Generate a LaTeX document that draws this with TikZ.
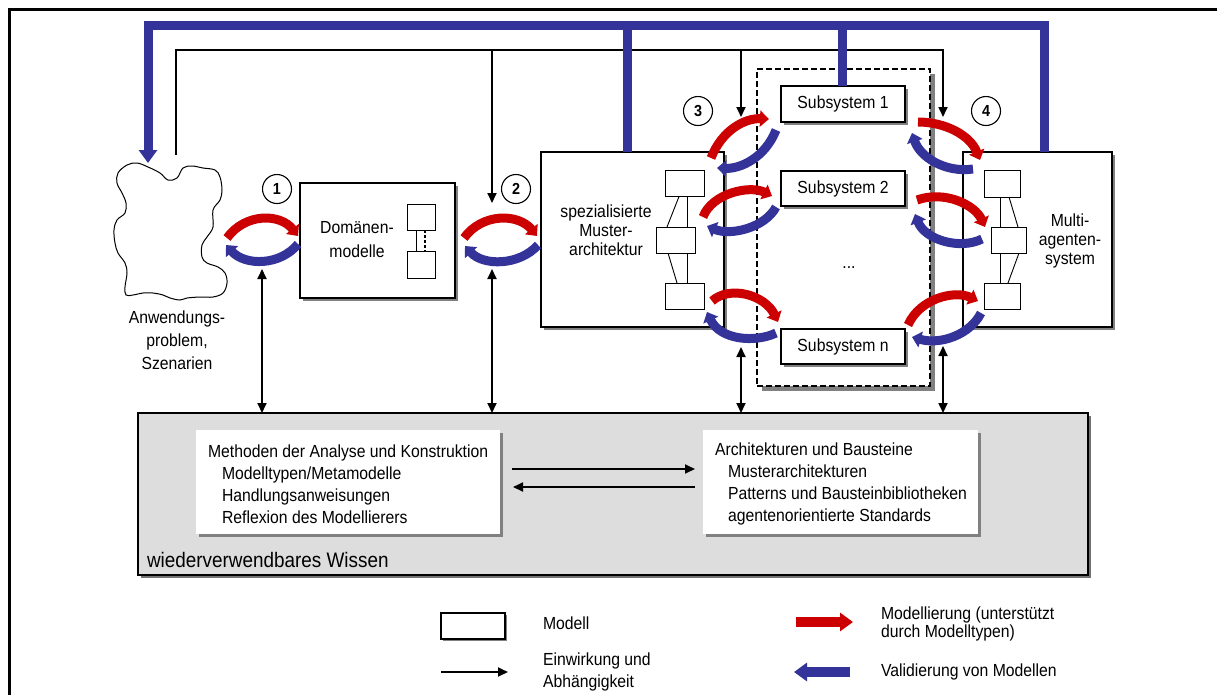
\documentclass[tikz,border=0pt]{standalone}
\usepackage{fontspec}
\setmainfont[FakeStretch=0.9]{Liberation Sans}
\usetikzlibrary{arrows.meta,shadows,calc}
\definecolor{modred}{HTML}{CC0000}
\definecolor{modblue}{HTML}{333399}
\definecolor{knowgray}{HTML}{DDDDDD}
\definecolor{shadowgray}{HTML}{808080}

\begin{document}
\begin{tikzpicture}[x=1pt,y=-1pt,
  every node/.style={inner sep=0pt, outer sep=0pt},
  txt/.style={font=\fontsize{17.5}{22}\selectfont},
  boxshadow/.style={general shadow={fill=shadowgray, shadow xshift=3pt, shadow yshift=-3pt}},
  modelbox/.style={draw, line width=1.2pt, fill=white, boxshadow},
  minibox/.style={draw, line width=0.9pt, fill=white},
  dep/.style={line width=1.8pt, line join=miter, -{Triangle[width=9pt,length=10pt]}},
  depboth/.style={line width=1.8pt, {Triangle[width=9pt,length=10pt]}-{Triangle[width=9pt,length=10pt]}},
  feed/.style={draw=modblue, line width=9pt, line join=miter},
  modarc/.style={draw=modred, line width=9pt, -{Triangle[width=16pt,length=9pt]}},
  valarc/.style={draw=modblue, line width=9pt, -{Triangle[width=16pt,length=9pt]}},
  stepnum/.style={circle, draw, line width=1.1pt, minimum size=29pt, fill=white,
    font=\bfseries\fontsize{16}{16}\selectfont},
]
\useasboundingbox (0,0) rectangle (1217,694);

% outer frame (continues past the page edge)
\draw[line width=2.5pt] (9.5,700) -- (9.5,9.5) -- (1225,9.5);

% reusable knowledge
\node[fill=knowgray, draw, line width=1.2pt,
      general shadow={fill=black!55, shadow xshift=3pt, shadow yshift=-3pt},
      minimum width=950, minimum height=162] (know) at (613,494) {};
\node[fill=white, boxshadow, minimum width=304, minimum height=104] (methods) at (348,482) {};
\node[fill=white, boxshadow, minimum width=275, minimum height=104] (archs) at (840.5,482) {};
\node[txt, anchor=west, align=left] (methtxt) at (208,484)
  {Methoden der Analyse und Konstruktion\\
   \hspace*{14pt}Modelltypen/Metamodelle\\
   \hspace*{14pt}Handlungsanweisungen\\
   \hspace*{14pt}Reflexion des Modellierers};
\node[txt, anchor=west, align=left] (archtxt) at (715,484)
  {Architekturen und Bausteine\\
   \hspace*{13pt}Musterarchitekturen\\
   \hspace*{13pt}Patterns und Bausteinbibliotheken\\
   \hspace*{13pt}agentenorientierte Standards};
\node[anchor=west, font=\fontsize{21}{25}\selectfont] (knowlbl) at (147,560) {wiederverwendbares Wissen};
\draw[dep] ([shift={(12,-13)}]methods.east) -- ([shift={(-8,-13)}]archs.west);
\draw[dep] ([shift={(-8,5)}]archs.west) -- ([shift={(13,5)}]methods.east);

% application problem
\draw[line width=1pt, fill=white] plot[smooth cycle, tension=0.6] coordinates {
  (118,173) (127,165) (137,163) (148,167) (160,173) (168,180) (177,178) (183,168)
  (192,166) (203,168) (215,170) (220,177) (222,190) (220,200) (213,210) (213,227)
  (207,237) (202,245) (202,257) (207,263) (218,267) (225,273) (227,283) (223,293)
  (213,297) (200,297) (187,298) (180,300) (170,298) (163,295) (153,293) (143,293)
  (133,295) (126,295) (125,287) (127,273) (125,263) (118,253) (115,243) (114,230)
  (117,220) (125,213) (126,203) (122,193) (117,183)};
\node[txt, align=center, font=\fontsize{17.5}{23}\selectfont] (problem) at (177,340)
  {Anwendungs-\\problem,\\Szenarien};

% domain models
\node[modelbox, minimum width=155, minimum height=115] (dom) at (377.5,240.5) {};
\node[txt, align=center, font=\fontsize{17.5}{24}\selectfont] (domtxt) at (357,240) {Domänen-\\modelle};
\node[minibox, minimum width=28, minimum height=26] (d1) at (421,217) {};
\node[minibox, minimum width=28, minimum height=27] (d2) at (421,264.5) {};
\draw[line width=0.9pt] ($(d1.south west)+(9,0)$) -- ($(d2.north west)+(9,0)$);
\draw[line width=1.2pt, dash pattern=on 3pt off 2pt] ($(d1.south west)+(18,0)$) -- ($(d2.north west)+(18,0)$);

% specialised pattern architecture
\node[modelbox, minimum width=183, minimum height=175] (muster) at (632.5,239.5) {};
\node[txt, align=center, font=\fontsize{17.5}{19}\selectfont] (mustertxt) at (606,230)
  {spezialisierte\\Muster-\\architektur};
\node[minibox, minimum width=39, minimum height=26] (m1) at (684.5,183.5) {};
\node[minibox, minimum width=39, minimum height=26] (m2) at (675.5,240) {};
\node[minibox, minimum width=39, minimum height=26] (m3) at (684.5,296) {};
\draw[line width=0.9pt] ($(m1.south west)+(22,0)$) -- ($(m2.north west)+(31,0)$);
\draw[line width=0.9pt] ($(m1.south west)+(14,0)$) -- ($(m2.north west)+(11,0)$);
\draw[line width=0.9pt] ($(m2.south west)+(31,0)$) -- ($(m3.north west)+(22,0)$);
\draw[line width=0.9pt] ($(m2.south west)+(12,0)$) -- ($(m3.north west)+(12,0)$);

% subsystems
\node[draw, fill=white, line width=1.5pt, dash pattern=on 6pt off 3pt,
      general shadow={fill=shadowgray, shadow xshift=5pt, shadow yshift=-5pt},
      minimum width=173, minimum height=317] (subsys) at (843.5,227.5) {};

% multi-agent system
\node[modelbox, minimum width=149, minimum height=175] (mas) at (1037.5,239.5) {};
\node[txt, align=center, font=\fontsize{17.5}{19}\selectfont] (mastxt) at (1070,241)
  {Multi-\\agenten-\\system};
\node[minibox, minimum width=36, minimum height=27] (a1) at (1002,183.5) {};
\node[minibox, minimum width=35, minimum height=26] (a2) at (1008.5,240) {};
\node[minibox, minimum width=36, minimum height=26] (a3) at (1002,296) {};
\draw[line width=0.9pt] ($(a1.south west)+(16,0)$) -- ($(a2.north west)+(9,0)$);
\draw[line width=0.9pt] ($(a1.south west)+(25,0)$) -- ($(a2.north west)+(27,0)$);
\draw[line width=0.9pt] ($(a2.south west)+(9,0)$) -- ($(a3.north west)+(16,0)$);
\draw[line width=0.9pt] ($(a2.south west)+(28,0)$) -- ($(a3.north west)+(24,0)$);

% influence and dependency lines
\coordinate (fbstart) at (176,155);
\coordinate (t2) at (492,203);
\coordinate (t3) at (741,117);
\coordinate (t4) at (943,117);
\draw[dep] (fbstart) -- (176,50) -| (t4);
\draw[dep] (492,50) -- (t2);
\draw[dep] (741,50) -- (t3);

% validation feedback to the problem
\coordinate (cloudtip) at (148,163);
\draw[feed] ([xshift=-5.5pt]muster.north) -- (627,25);
\draw[feed] (1044,152) -- (1044,25) -| (148,140);
\draw[feed, -{Triangle[width=18pt,length=13pt]}] (148,140) -- (cloudtip);

\node[modelbox, txt, minimum width=124, minimum height=36] (sub1) at (843,104) {Subsystem 1};
\draw[feed] ([xshift=-1pt]sub1.north) -- (842,25);
\node[modelbox, txt, minimum width=124, minimum height=35] (sub2) at (843,188.5) {Subsystem 2};
\node[modelbox, txt, minimum width=124, minimum height=35] (subn) at (843,346.5) {Subsystem n};
\node[txt] (dots) at (849,268) {...};

% links to reusable knowledge
\coordinate (u1) at (262,269);
\coordinate (u2) at (492,269);
\coordinate (u3) at (741,347);
\coordinate (u4) at (943,346);
\foreach \u in {u1,u2,u3,u4} \draw[depboth] (\u) -- (\u |- know.north);

% modelling / validation cycles
\draw[modarc] (227,238) .. controls (245,213) and (280,213) .. (298,236);
\draw[valarc] (298,244) .. controls (280,266) and (245,266) .. (226,245);
\draw[modarc] (464,238) .. controls (482,213) and (518,213) .. (537,236);
\draw[valarc] (538,245) .. controls (519,266) and (483,266) .. (465,246);

\draw[modarc] (711,158) .. controls (722,130) and (745,118) .. (769,119);
\draw[valarc] (776,130) .. controls (765,158) and (740,169) .. (717,168);
\draw[modarc] (703,217) .. controls (712,193) and (750,185) .. (772,196);
\draw[valarc] (776,207) .. controls (765,228) and (730,236) .. (707,226);
\draw[modarc] (712,301) .. controls (730,285) and (765,295) .. (778,322);
\draw[valarc] (776,333) .. controls (755,343) and (720,340) .. (707,312);

\draw[modarc] (918,122) .. controls (945,122) and (970,135) .. (980,160);
\draw[valarc] (973,169) .. controls (945,173) and (920,157) .. (912,133);
\draw[modarc] (917,200) .. controls (945,190) and (975,205) .. (985,227);
\draw[valarc] (982,239) .. controls (960,250) and (925,240) .. (915,214);
\draw[modarc] (908,325) .. controls (920,298) and (955,290) .. (978,301);
\draw[valarc] (981,313) .. controls (970,335) and (940,345) .. (912,337);

% step numbers
\node[stepnum] (c1) at (277,189) {1};
\node[stepnum] (c2) at (516,189) {2};
\node[stepnum] (c3) at (698,111) {3};
\node[stepnum] (c4) at (986,111) {4};

% legend
\node[draw, line width=1.2pt, fill=white,
      general shadow={fill=shadowgray, shadow xshift=2pt, shadow yshift=-2pt},
      minimum width=64, minimum height=26] (legbox) at (473,626) {};
\node[txt, anchor=west] (leg1) at (543,623) {Modell};
\coordinate (legdep) at (441,672);
\draw[dep] (legdep) -- ++(67,0);
\node[txt, anchor=west, align=left] (leg2) at (543,672) {Einwirkung und\\Abhängigkeit};
\coordinate (legmod) at (796,622);
\draw[draw=modred, line width=10pt, -{Triangle[width=18pt,length=13pt]}] (legmod) -- ++(57,0);
\node[txt, anchor=west, align=left, font=\fontsize{17.5}{18}\selectfont] (leg3) at (881,624)
  {Modellierung (unterstützt\\durch Modelltypen)};
\coordinate (legval) at (850,672);
\draw[draw=modblue, line width=10pt, -{Triangle[width=18pt,length=13pt]}] (legval) -- ++(-56,0);
\node[txt, anchor=west] (leg4) at (881,672) {Validierung von Modellen};
\end{tikzpicture}
\end{document}
